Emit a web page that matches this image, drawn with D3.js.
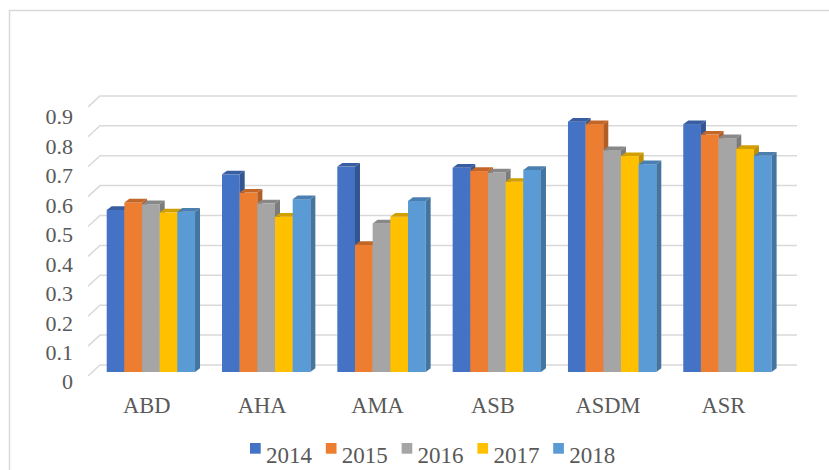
<!DOCTYPE html>
<html>
<head>
<meta charset="utf-8">
<script src="https://cdn.jsdelivr.net/npm/d3@7"></script>
<style>
  html, body { margin: 0; padding: 0; background: #ffffff; }
  svg { display: block; }
</style>
</head>
<body>
<svg id="chart" width="829" height="470"></svg>
<script>
// ---- data ----
const categories = ["ABD", "AHA", "AMA", "ASB", "ASDM", "ASR"];
const seriesNames = ["2014", "2015", "2016", "2017", "2018"];
const s2014 = [0.542, 0.661, 0.687, 0.683, 0.837, 0.829];
const s2015 = [0.567, 0.600, 0.425, 0.672, 0.829, 0.794];
const s2016 = [0.561, 0.564, 0.497, 0.667, 0.742, 0.782];
const s2017 = [0.534, 0.519, 0.519, 0.636, 0.722, 0.746];
const s2018 = [0.536, 0.578, 0.572, 0.676, 0.695, 0.723];
const seriesColors = ["#4472C4", "#ED7D31", "#A5A5A5", "#FFC000", "#5B9BD5"];
const tickValues = [0, 0.1, 0.2, 0.3, 0.4, 0.5, 0.6, 0.7, 0.8, 0.9];
const tickLabels = ["0", "0.1", "0.2", "0.3", "0.4", "0.5", "0.6", "0.7", "0.8", "0.9"];

const seriesValues = [s2014, s2015, s2016, s2017, s2018];

const svg = d3.select("#chart");
const FONT = "'Liberation Serif', 'Times New Roman', serif";
const TEXT_COLOR = "#595959";

// chart border (right & bottom fall outside the picture)
svg.append("rect")
  .attr("x", 9.5).attr("y", 10.5)
  .attr("width", 840).attr("height", 480)
  .attr("fill", "none").attr("stroke", "#D9D9D9").attr("stroke-width", 1.5);

// ---- scales ----
const yWall = d3.scaleLinear().domain([0, 0.9]).range([365, 95.9]);   // back wall gridlines
const yBar = d3.scaleLinear().domain([0, 1]).range([372, 73]);         // bar front faces
const yLabel = d3.scaleLinear().domain([0, 0.9]).range([381.7, 116.7]); // tick label centres
const x0 = d3.scaleBand().domain(categories).range([106.7, 771.6]).paddingInner(0.234).paddingOuter(0);
const x1 = d3.scaleBand().domain(seriesNames).range([0, x0.bandwidth()]);

const wallLeft = 100, wallRight = 797, sideDX = 12, sideDY = 11;
const depthDX = 5, depthDY = -3.7;

// ---- gridlines ----
const grid = svg.append("g");
tickValues.forEach(v => {
  const y = yWall(v);
  grid.append("path")
    .attr("d", `M${wallLeft - sideDX},${y + sideDY} L${wallLeft},${y} L${wallRight},${y}`)
    .attr("fill", "none").attr("stroke", "#D9D9D9").attr("stroke-width", 1.5);
});

// ---- tick labels ----
svg.append("g").selectAll("text").data(tickValues).join("text")
  .attr("x", 73).attr("y", d => yLabel(d))
  .attr("dy", "0.35em")
  .attr("text-anchor", "end")
  .attr("font-family", FONT).attr("font-size", 22)
  .attr("fill", TEXT_COLOR)
  .text((d, i) => tickLabels[i]);

// ---- bars ----
const bars = svg.append("g");
categories.forEach((cat, ci) => {
  seriesNames.forEach((s, si) => {
    const v = seriesValues[si][ci];
    const color = seriesColors[si];
    const x = x0(cat) + x1(s);
    const w = x1.bandwidth();
    const yt = yBar(v), yb = yBar(0);
    const g = bars.append("g");
    // front face
    g.append("rect").attr("x", x).attr("y", yt).attr("width", w).attr("height", yb - yt)
      .attr("fill", color);
    // top
    g.append("path")
      .attr("d", `M${x},${yt} L${x + depthDX},${yt + depthDY} L${x + w + depthDX},${yt + depthDY} L${x + w},${yt} Z`)
      .attr("fill", d3.color(color).darker(0.55));
    // right side
    g.append("path")
      .attr("d", `M${x + w},${yt} L${x + w + depthDX},${yt + depthDY} L${x + w + depthDX},${yb + depthDY} L${x + w},${yb} Z`)
      .attr("fill", d3.color(color).darker(0.8));
  });
});

// ---- category labels ----
svg.append("g").selectAll("text").data(categories).join("text")
  .attr("x", d => x0(d) + x0.bandwidth() / 2 - 4)
  .attr("y", 413.3)
  .attr("text-anchor", "middle")
  .attr("font-family", FONT).attr("font-size", 22.5)
  .attr("fill", TEXT_COLOR)
  .text(d => d);

// ---- legend ----
const legend = svg.append("g");
seriesNames.forEach((s, i) => {
  const lx = 250 + i * 75.8;
  legend.append("rect").attr("x", lx).attr("y", 443).attr("width", 10.7).attr("height", 10.7)
    .attr("fill", seriesColors[i]);
  legend.append("text").attr("x", lx + 16).attr("y", 462.7)
    .attr("font-family", FONT).attr("font-size", 23)
    .attr("fill", TEXT_COLOR).text(s);
});
</script>
</body>
</html>
